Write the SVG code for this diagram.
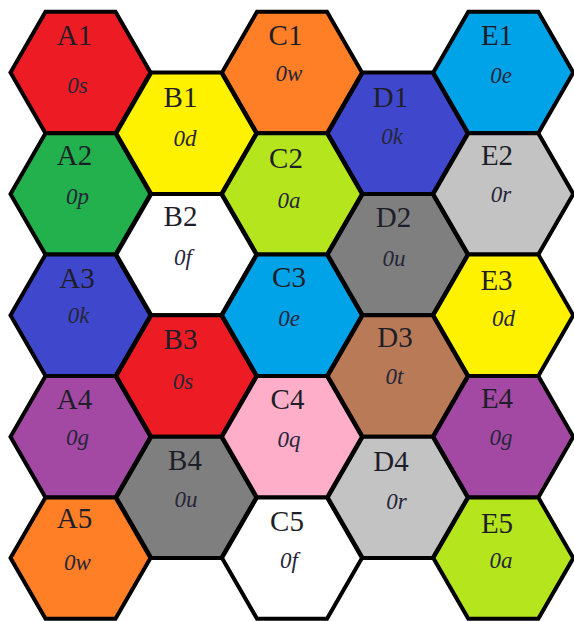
<svg xmlns="http://www.w3.org/2000/svg" xmlns:xlink="http://www.w3.org/1999/xlink" width="574" height="621" viewBox="0 0 574 621">
<style>
.hx{stroke:#000;stroke-width:4;stroke-linejoin:miter}
.lb{font-family:"Liberation Serif","Times New Roman",serif;font-size:29px;fill:#1e1e28;text-anchor:middle}
.sb{font-family:"Liberation Serif","Times New Roman",serif;font-size:23px;font-style:italic;fill:#26263a;text-anchor:middle}
</style>
<defs>
<polygon id="hex" points="-70,0 -35,-60.7 35,-60.7 70,0 35,60.7 -35,60.7"/>
</defs>
<rect width="574" height="621" fill="#fff"/>
<g id="connectors"/>
<g id="A1"><use xlink:href="#hex" class="hx" fill="#ED1C24" transform="translate(80.5,72.5)"/><text class="lb" x="74.5" y="45">A1</text><text class="sb" x="77.5" y="93">0s</text></g>
<g id="A2"><use xlink:href="#hex" class="hx" fill="#22B14C" transform="translate(80.5,193.9)"/><text class="lb" x="74.5" y="165">A2</text><text class="sb" x="77.5" y="204">0p</text></g>
<g id="A3"><use xlink:href="#hex" class="hx" fill="#3F48CC" transform="translate(80.5,315.3)"/><text class="lb" x="77" y="288">A3</text><text class="sb" x="78.5" y="323">0k</text></g>
<g id="A4"><use xlink:href="#hex" class="hx" fill="#A349A4" transform="translate(80.5,436.7)"/><text class="lb" x="74.5" y="409">A4</text><text class="sb" x="77.5" y="445">0g</text></g>
<g id="A5"><use xlink:href="#hex" class="hx" fill="#FF7F27" transform="translate(80.5,558.1)"/><text class="lb" x="74.5" y="528">A5</text><text class="sb" x="77.5" y="570">0w</text></g>
<g id="B1"><use xlink:href="#hex" class="hx" fill="#FFF200" transform="translate(186.3,133.2)"/><text class="lb" x="180.5" y="107">B1</text><text class="sb" x="185" y="146">0d</text></g>
<g id="B2"><use xlink:href="#hex" class="hx" fill="#FFFFFF" transform="translate(186.3,254.6)"/><text class="lb" x="180.5" y="226">B2</text><text class="sb" x="183" y="265">0f</text></g>
<g id="B3"><use xlink:href="#hex" class="hx" fill="#ED1C24" transform="translate(186.3,376)"/><text class="lb" x="180.5" y="349">B3</text><text class="sb" x="183" y="389">0s</text></g>
<g id="B4"><use xlink:href="#hex" class="hx" fill="#7F7F7F" transform="translate(186.3,497.4)"/><text class="lb" x="185" y="470">B4</text><text class="sb" x="186" y="507">0u</text></g>
<g id="C1"><use xlink:href="#hex" class="hx" fill="#FF7F27" transform="translate(292,72.5)"/><text class="lb" x="285.5" y="45">C1</text><text class="sb" x="289" y="81">0w</text></g>
<g id="C2"><use xlink:href="#hex" class="hx" fill="#B5E61D" transform="translate(292,193.9)"/><text class="lb" x="286" y="168">C2</text><text class="sb" x="289" y="208">0a</text></g>
<g id="C3"><use xlink:href="#hex" class="hx" fill="#00A2E8" transform="translate(292,315.3)"/><text class="lb" x="289" y="287">C3</text><text class="sb" x="289" y="326">0e</text></g>
<g id="C4"><use xlink:href="#hex" class="hx" fill="#FFAEC9" transform="translate(292,436.7)"/><text class="lb" x="287.5" y="409">C4</text><text class="sb" x="289" y="447">0q</text></g>
<g id="C5"><use xlink:href="#hex" class="hx" fill="#FFFFFF" transform="translate(292,558.1)"/><text class="lb" x="287" y="531">C5</text><text class="sb" x="289" y="568">0f</text></g>
<g id="D1"><use xlink:href="#hex" class="hx" fill="#3F48CC" transform="translate(397.7,133.2)"/><text class="lb" x="390.5" y="107">D1</text><text class="sb" x="392" y="144">0k</text></g>
<g id="D2"><use xlink:href="#hex" class="hx" fill="#7F7F7F" transform="translate(397.7,254.6)"/><text class="lb" x="393.5" y="227">D2</text><text class="sb" x="394" y="266">0u</text></g>
<g id="D3"><use xlink:href="#hex" class="hx" fill="#B97A57" transform="translate(397.7,376)"/><text class="lb" x="395" y="347">D3</text><text class="sb" x="394.5" y="384">0t</text></g>
<g id="D4"><use xlink:href="#hex" class="hx" fill="#C3C3C3" transform="translate(397.7,497.4)"/><text class="lb" x="391" y="471">D4</text><text class="sb" x="396.5" y="509">0r</text></g>
<g id="E1"><use xlink:href="#hex" class="hx" fill="#00A2E8" transform="translate(503.3,72.5)"/><text class="lb" x="497" y="45">E1</text><text class="sb" x="501" y="83">0e</text></g>
<g id="E2"><use xlink:href="#hex" class="hx" fill="#C3C3C3" transform="translate(503.3,193.9)"/><text class="lb" x="497" y="165">E2</text><text class="sb" x="501" y="202">0r</text></g>
<g id="E3"><use xlink:href="#hex" class="hx" fill="#FFF200" transform="translate(503.3,315.3)"/><text class="lb" x="496.5" y="290">E3</text><text class="sb" x="503.5" y="326">0d</text></g>
<g id="E4"><use xlink:href="#hex" class="hx" fill="#A349A4" transform="translate(503.3,436.7)"/><text class="lb" x="497" y="408">E4</text><text class="sb" x="501" y="445">0g</text></g>
<g id="E5"><use xlink:href="#hex" class="hx" fill="#B5E61D" transform="translate(503.3,558.1)"/><text class="lb" x="497" y="533">E5</text><text class="sb" x="501" y="568">0a</text></g>
</svg>
